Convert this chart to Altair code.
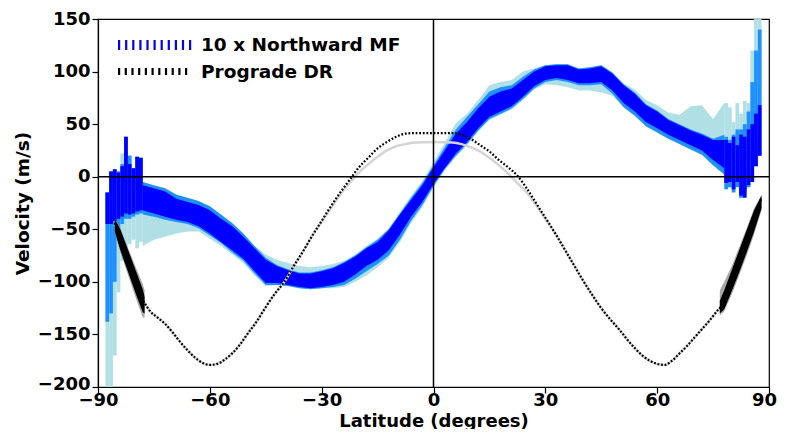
import altair as alt
import pandas as pd

# ---------------- data ----------------
# Northward meridional flow (x10) – smooth region, three nested bands
mid_lat = [-78, -75, -72, -69, -66, -63, -60, -57, -54, -51, -48, -45, -42, -39, -36, -33, -30, -27,
           -24, -21, -18, -15, -12, -9, -6, -3, 0, 3, 6, 9, 12, 15, 18, 21, 24, 27, 30, 33, 36, 39,
           42, 45, 48, 51, 54, 57, 60, 63, 66, 69, 72, 75, 78]
dark_lo = [-32, -35, -38, -41, -43, -47, -54, -62, -70, -78, -90, -101, -101, -103, -105, -106, -105, -103,
           -100, -93, -85, -79, -70, -55, -38, -24, -7, 8, 22, 33, 46, 57, 62, 67, 76, 86, 92, 94, 92, 89,
           89, 90, 82, 70, 62, 52, 46, 40, 35, 30, 25, 16, 8]
dark_hi = [-8, -11, -14, -21, -24, -27, -32, -40, -47, -57, -68, -79, -85, -89, -92, -92, -90, -87,
           -82, -76, -68, -62, -51, -36, -22, -8, 9, 25, 41, 52, 65, 76, 81, 84, 92, 100, 105, 106, 106, 102,
           103, 105, 98, 87, 79, 68, 62, 54, 49, 44, 40, 35, 35]
med_lo = [-36, -38, -41, -43, -45, -49, -56, -63, -72, -80, -92, -103, -103, -104, -106, -107, -106, -105,
          -103, -97, -90, -83, -75, -60, -42, -27, -9, 7, 20, 31, 44, 55, 60, 65, 74, 84, 90, 92, 90, 87,
          87, 88, 79, 66, 58, 48, 42, 36, 31, 26, 21, 11, 2]
med_hi = [-5, -8, -11, -17, -20, -23, -28, -36, -44, -54, -66, -77, -84, -88, -91, -91, -89, -86,
          -81, -75, -67, -60, -50, -35, -20, -6, 11, 28, 45, 57, 69, 81, 85, 87, 95, 102, 106, 107, 107, 103,
          104, 106, 99, 88, 80, 69, 63, 55, 50, 45, 41, 36, 40]
light_lo = [-66, -60, -57, -54, -52, -52, -59, -66, -74, -82, -94, -104, -103, -104, -106, -107, -106, -106,
            -105, -100, -94, -86, -77, -62, -44, -29, -10, 6, 19, 30, 43, 54, 59, 64, 73, 83, 88, 87, 85, 82,
            82, 80, 77, 66, 58, 48, 42, 36, 31, 26, 21, 11, 2]
light_hi = [-6, -9, -12, -19, -22, -25, -30, -38, -45, -55, -66, -74, -79, -82, -85, -86, -85, -83,
            -80, -74, -66, -59, -49, -33, -18, -4, 14, 32, 51, 60, 73, 87, 90, 92, 100, 103, 106, 107, 107, 103,
            104, 106, 99, 89, 83, 73, 68, 61, 59, 67, 68, 55, 70]

# noisy polar bins (1 degree wide, centres)
pole_lat = [-87.5, -86.5, -85.5, -84.5, -83.5, -82.5, -81.5, -80.5, -79.5, -78.5,
            78.5, 79.5, 80.5, 81.5, 82.5, 83.5, 84.5, 85.5, 86.5, 87.5]
pole_dark_lo = [-45, -45, -42, -40, -38, -35, -36, -35, -33, -32,
                -6, -5, -12, -5, -18, -20, -8, -5, 10, 20]
pole_dark_hi = [-15, 5, 7, 4, 10, 38, 12, 8, 19, 18,
                35, 32, 38, 30, 40, 38, 45, 50, 60, 68]
pole_med_lo = [-138, -130, -100, -60, -45, -40, -40, -38, -36, -35,
               -12, -10, -15, -10, -20, -14, -10, -5, 10, 20]
pole_med_hi = [-15, 5, 7, 5, 12, 38, 20, 8, 19, 18,
               38, 35, 40, 45, 45, 50, 62, 90, 120, 140]
pole_light_lo = [-200, -200, -170, -110, -80, -75, -64, -60, -68, -62,
                 -6, 0, -12, -8, -20, -16, -10, -5, 10, 20]
pole_light_hi = [-15, 5, 7, 5, 22, 20, 20, 5, 10, 8,
                 70, 66, 52, 70, 60, 72, 70, 120, 150, 150]

# Prograde differential rotation
dr_lat = [-85.5, -84, -82, -80, -78, -77, -76, -74, -72, -70, -68, -66, -64, -62, -60, -58, -56, -54, -52, -50,
          -47.5, -45, -42.5, -40, -37.5, -35, -32.5, -30, -27.5, -25, -22.5, -20, -17.5, -15, -12.5, -10, -7.5,
          -5, 0, 5, 7.5, 10, 12.5, 15, 17.5, 20, 22.5, 25, 27.5, 30, 32.5, 35, 37.5, 40, 42.5, 45, 47.5, 50,
          52, 54, 56, 58, 60, 62, 64, 66, 68, 70, 72, 74, 76, 77, 78, 80, 82, 84, 86, 88]
dr_vel = [-44, -59, -78, -98, -117, -123, -128, -134, -140, -148, -157, -165, -172, -177, -179, -178, -174, -168,
          -160, -150, -138, -124, -111, -100, -85, -71, -56, -42, -28, -15, -3, 9, 18, 27, 33, 38, 41, 41.5,
          41.5, 41.5, 40, 36, 30, 24, 16, 9, 1, -11, -25, -39, -53, -68, -83, -98, -112, -125, -136, -146,
          -155, -163, -170, -175, -178, -179, -175, -168, -161, -153, -145, -137, -128, -124, -115, -96, -77,
          -58, -39, -20]
dr_gray = [-44, -59, -78, -98, -117, -123, -128, -134, -140, -148, -157, -165, -172, -177, -179, -178, -174, -168,
           -160, -150, -138, -124, -111, -100, -85, -71, -56, -43, -30, -17, -6, 4, 12, 19, 25, 29, 31, 32.5,
           33, 32.5, 31, 28, 24, 18, 11, 3, -6, -15, -27, -40, -53, -68, -83, -98, -112, -125, -136, -146,
           -155, -163, -170, -175, -178, -179, -175, -168, -161, -153, -145, -137, -128, -124, -115, -96, -77,
           -58, -39, -20]

# polar uncertainty bands of the DR profile
drs_lat = [-85.5, -84, -82, -80, -78, -77.5]
drs_lo = [-52, -70, -90, -110, -129, -130]
drs_hi = [-40, -50, -69, -88, -107, -114]
drs_glo = [-53, -72, -93, -114, -134, -134]
drs_ghi = [-40, -49, -67, -85, -102, -108]
drn_lat = [76.8, 78, 80, 82, 84, 86, 88]
drn_lo = [-130, -126, -109, -91, -72, -52, -30]
drn_hi = [-118, -108, -89, -70, -51, -32, -18]
drn_glo = [-132, -128, -112, -94, -75, -55, -32]
drn_ghi = [-108, -100, -85, -67, -49, -30, -17]

legend_labels = ["10 x Northward MF", "Prograde DR"]
x_ticks = [-90, -60, -30, 0, 30, 60, 90]
y_ticks = [-200, -150, -100, -50, 0, 50, 100, 150]

# ---------------- encodings ----------------
FONT = "DejaVu Sans"
xscale = alt.Scale(domain=[-90, 90], nice=False, zero=False)
yscale = alt.Scale(domain=[-200, 150], nice=False, zero=False)
xaxis = alt.Axis(values=x_ticks, title="Latitude (degrees)", grid=False, tickSize=6,
                 labelPadding=-2, labelFlush=False, labelOverlap=False,
                 labelOffset={"condition": {"test": "datum.value === 90", "value": -5}, "value": 0},
                 titleY=39, titleBaseline="alphabetic", titleFontSize=18)
yaxis = alt.Axis(values=y_ticks, title="Velocity (m/s)", grid=False, tickSize=6,
                 labelPadding=2, labelFlush=False, labelOverlap=False,
                 labelOffset={"condition": {"test": "datum.value === -200", "value": -3}, "value": 0},
                 titleX=-76, titleY=184, titleAngle=270, titleBaseline="middle", titleAlign="center")


def X(f):
    return alt.X(f, type="quantitative", scale=xscale, axis=xaxis)


def X2(f):
    return alt.X2(f)


def Y(f):
    return alt.Y(f, type="quantitative", scale=yscale, axis=yaxis)


def Y2(f):
    return alt.Y2(f)


def band(lat, lo, hi, color):
    df = pd.DataFrame({"lat": lat, "lo": lo, "hi": hi})
    return alt.Chart(df).mark_area(color=color, opacity=1, clip=True, interpolate="linear").encode(
        x=X("lat"), y=Y("lo"), y2=Y2("hi"))


def bars(lo, hi, color):
    df = pd.DataFrame({"lat": pole_lat, "lo": lo, "hi": hi})
    return alt.Chart(df).transform_calculate(
        x0="datum.lat - 0.5", x1="datum.lat + 0.5"
    ).mark_bar(color=color, opacity=1, clip=True).encode(
        x=X("x0"), x2=X2("x1"), y=Y("lo"), y2=Y2("hi"))


LIGHT = "#b0e0e6"
MED = "#1e90ff"
DARK = "#0000ff"

layers = [
    band(mid_lat, light_lo, light_hi, LIGHT), bars(pole_light_lo, pole_light_hi, LIGHT),
    band(mid_lat, med_lo, med_hi, MED), bars(pole_med_lo, pole_med_hi, MED),
    band(mid_lat, dark_lo, dark_hi, DARK), bars(pole_dark_lo, pole_dark_hi, DARK),
]

gray_df = pd.DataFrame({"lat": dr_lat, "v": dr_gray})
layers.append(alt.Chart(gray_df).mark_line(color="#d4d4d4", strokeWidth=2.5, interpolate="monotone", clip=True)
              .encode(x=X("lat"), y=Y("v")))
layers.append(band(drs_lat, drs_glo, drs_ghi, "#a8a8a8"))
layers.append(band(drn_lat, drn_glo, drn_ghi, "#a8a8a8"))

dr_df = pd.DataFrame({"lat": dr_lat, "v": dr_vel})
layers.append(alt.Chart(dr_df).mark_line(color="black", strokeWidth=2.2, strokeDash=[1.8, 1.8],
                                         interpolate="monotone", clip=True)
              .encode(x=X("lat"), y=Y("v")))
layers.append(band(drs_lat, drs_lo, drs_hi, "black"))
layers.append(band(drn_lat, drn_lo, drn_hi, "black"))

# zero lines
zero_df = pd.DataFrame({"z": [0]})
layers.append(alt.Chart(zero_df).mark_rule(color="black", strokeWidth=1.5).encode(y=Y("z")))
layers.append(alt.Chart(zero_df).mark_rule(color="black", strokeWidth=1.5).encode(x=X("z")))

# legend (manual)
leg1 = pd.DataFrame({"label": [legend_labels[0]]})
leg2 = pd.DataFrame({"label": [legend_labels[1]]})
layers.append(alt.Chart(leg1).mark_rule(color=DARK, strokeWidth=10, strokeDash=[2.2, 4.9]).encode(
    x=alt.value(20), x2=alt.value(97), y=alt.value(26)))
layers.append(alt.Chart(leg2).mark_rule(color="black", strokeWidth=7, strokeDash=[2.2, 4.5]).encode(
    x=alt.value(20), x2=alt.value(92), y=alt.value(52.5)))
layers.append(alt.Chart(leg1).mark_text(align="left", baseline="middle", font=FONT, fontSize=18.5,
                                        fontWeight="bold", color="black").encode(
    x=alt.value(103), y=alt.value(26), text="label:N"))
layers.append(alt.Chart(leg2).mark_text(align="left", baseline="middle", font=FONT, fontSize=18.5,
                                        fontWeight="bold", color="black").encode(
    x=alt.value(103), y=alt.value(53), text="label:N"))

chart = alt.layer(*layers).properties(
    width=671, height=368,
    autosize=alt.AutoSizeParams(type="none"),
    padding={"left": 90, "top": 11, "right": 8, "bottom": 42},
    background="white",
).configure_view(
    stroke="black", strokeWidth=1.2
).configure_axis(
    labelFont=FONT, labelFontSize=18, labelFontWeight="bold", labelColor="black",
    titleFont=FONT, titleFontSize=18.5, titleFontWeight="bold", titleColor="black",
    tickColor="black", domainColor="black", tickWidth=1.2, domainWidth=1.2,
)

chart.save("out.html", embed_options={"renderer": "svg", "actions": False})
